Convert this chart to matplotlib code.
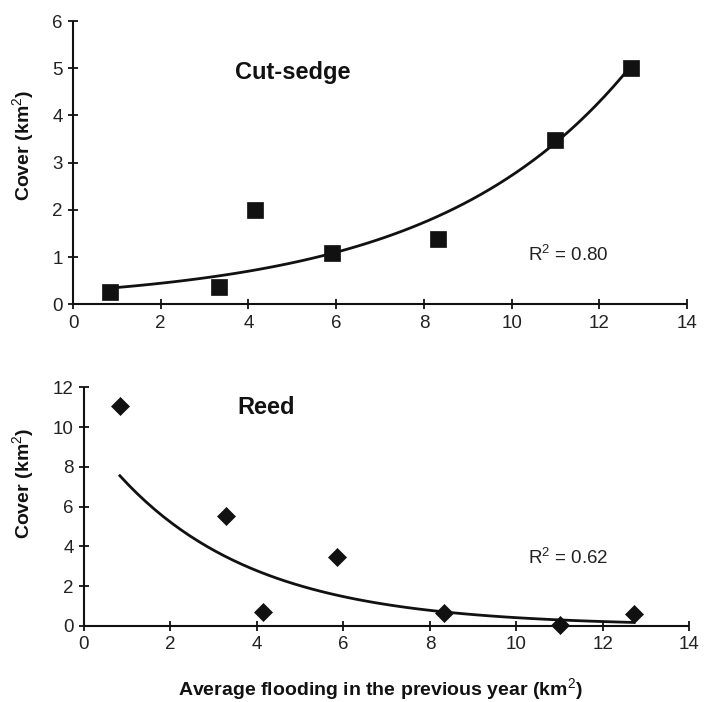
import numpy as np
import matplotlib
matplotlib.use("Agg")
import matplotlib.pyplot as plt

plt.rcParams['font.family'] = ['Liberation Sans', 'DejaVu Sans']
plt.rcParams['mathtext.fontset'] = 'custom'
plt.rcParams['mathtext.rm'] = 'Liberation Sans'
plt.rcParams['mathtext.it'] = 'Liberation Sans'
plt.rcParams['mathtext.bf'] = 'Liberation Sans:bold'

# flooding in previous year (km2) and cover (km2)
sedge_x = [0.85, 3.33, 4.15, 5.9, 8.32, 11.0, 12.72]
sedge_y = [0.27, 0.37, 2.0, 1.09, 1.38, 3.48, 5.0]
reed_x = [0.83, 3.29, 4.14, 5.86, 8.32, 11.0, 12.72]
reed_y = [11.06, 5.55, 0.69, 3.48, 0.64, 0.07, 0.62]

sedge_r2 = "0.80"
reed_r2 = "0.62"
x_ticks = [0, 2, 4, 6, 8, 10, 12, 14]

INK = '#111111'


def exp_trend(x, y):
    # excel style exponential trendline: linear fit on log(y)
    b, ln_a = np.polyfit(x, np.log(y), 1)
    xs = np.linspace(min(x), max(x), 60)
    return xs, np.exp(ln_a) * np.exp(b * xs)


def style_axes(ax, ylim, yticks, label_xy):
    ax.set_xlim(0, 14)
    ax.set_ylim(*ylim)
    ax.set_xticks(x_ticks)
    ax.set_yticks(yticks)
    ax.spines['top'].set_visible(False)
    ax.spines['right'].set_visible(False)
    for s in ('left', 'bottom'):
        ax.spines[s].set_linewidth(1.5)
        ax.spines[s].set_color(INK)
        ax.spines[s].set_capstyle('butt')
    ax.tick_params(direction='inout', length=7, width=1.3, color=INK,
                   labelsize=13.5, labelcolor='#222222', pad=4)
    ax.set_ylabel('Cover (km$^{\\mathrm{2}}$)', fontsize=14, fontweight='bold',
                  color=INK)
    ax.yaxis.set_label_coords(*label_xy)


fig = plt.figure(figsize=(7.04, 7.02), dpi=100)

# cut-sedge panel
ax1 = fig.add_axes([0.1037, 0.5665, 0.8722, 0.4035])
xs, ys = exp_trend(sedge_x, sedge_y)
ax1.plot(xs, ys, color=INK, lw=2.0, zorder=2)
ax1.plot(sedge_x, sedge_y, 's', color=INK, markersize=11.5, markeredgewidth=0.5,
         zorder=3, clip_on=False)
style_axes(ax1, (0, 6), [0, 1, 2, 3, 4, 5, 6], (-0.061, 0.562))
ax1.text(5.0, 4.9, 'Cut-sedge', fontsize=17, fontweight='bold', color=INK,
         ha='center', va='center')
ax1.text(11.3, 1.05, 'R$^{2}$ = ' + sedge_r2, fontsize=13.5, color='#222222',
         ha='center', va='center')

# reed panel
ax2 = fig.add_axes([0.1193, 0.1083, 0.8601, 0.34])
xs, ys = exp_trend(reed_x, reed_y)
ax2.plot(xs, ys, color=INK, lw=2.0, zorder=2)
ax2.plot(reed_x, reed_y, 'D', color=INK, markersize=8.8, markeredgewidth=0.5,
         zorder=3, clip_on=False)
style_axes(ax2, (0, 12), [0, 2, 4, 6, 8, 10, 12], (-0.080, 0.599))
ax2.text(4.2, 11.0, 'Reed', fontsize=17, fontweight='bold', color=INK,
         ha='center', va='center')
ax2.text(11.2, 3.4, 'R$^{2}$ = ' + reed_r2, fontsize=13.5, color='#222222',
         ha='center', va='center')
ax2.set_xlabel('Average flooding in the previous year (km$^{\\mathrm{2}}$)',
               fontsize=14, fontweight='bold', color=INK)
ax2.xaxis.set_label_coords(0.49, -0.212)

fig.savefig('out.png', dpi=100)
